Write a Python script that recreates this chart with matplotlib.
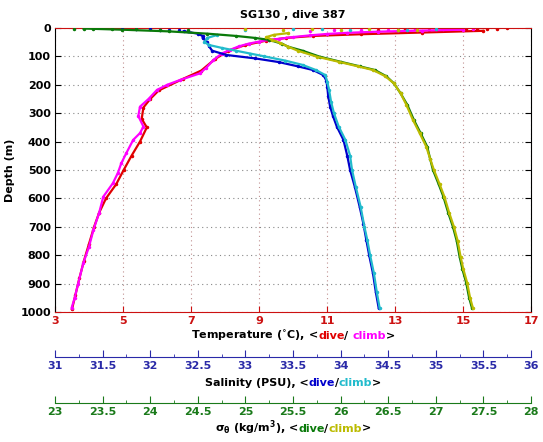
import matplotlib
matplotlib.use('Agg')
import matplotlib.pyplot as plt
from matplotlib.ticker import MultipleLocator, FormatStrFormatter
from matplotlib.offsetbox import TextArea, HPacker, AnchoredOffsetbox

# temperature, dive (red) and climb (magenta)
temp_dive_depth = [10, 16, 22, 28, 35, 45, 60, 80, 110, 150, 180, 220, 250, 280, 320, 350,
                   400, 450, 500, 550, 600, 650, 700, 760, 820, 880, 940, 990]
temp_dive = [15.6, 13.8, 12.0, 10.6, 9.8, 9.2, 8.6, 8.1, 7.7, 7.3, 6.75, 6.05, 5.8, 5.6, 5.55, 5.7,
             5.5, 5.25, 5.02, 4.8, 4.5, 4.3, 4.15, 4.0, 3.85, 3.72, 3.6, 3.5]
temp_climb_depth = [6, 9, 13, 17, 21, 26, 32, 38, 42, 48, 55, 65, 77, 90, 113, 140, 160, 183, 200,
                    218, 250, 277, 310, 347, 370, 394, 440, 476, 510, 547, 594, 650, 711, 770, 829,
                    900, 950, 985]
temp_climb = [15.0, 13.8, 12.5, 11.6, 11.0, 10.5, 10.0, 9.6, 9.3, 9.0, 8.7, 8.4, 8.15, 7.9, 7.66,
              7.45, 7.26, 6.68, 6.3, 6.0, 5.75, 5.5, 5.45, 5.6, 5.5, 5.3, 5.1, 4.95, 4.85, 4.7, 4.42,
              4.3, 4.13, 4.0, 3.83, 3.68, 3.58, 3.49]
temp_dive_surf = [12.5, 13.3, 14.0, 15.1, 15.4, 15.7, 16.0, 16.3]
temp_dive_surf_depth = [6, 5, 7, 4, 3, 5, 2, 1]
temp_climb_surf = [10.5, 11.2, 12.0, 12.8, 13.6, 14.4, 15.3]
temp_climb_surf_depth = [9, 8, 7, 6, 5, 3, 2]

# salinity, dive (blue) and climb (cyan)
sal_dive_depth = [12, 20, 28, 35, 50, 65, 80, 95, 107, 120, 135, 148, 166, 185, 207, 240, 277,
                  310, 347, 394, 450, 500, 560, 629, 690, 746, 800, 864, 930, 986]
sal_dive = [32.35, 32.5, 32.55, 32.55, 32.6, 32.62, 32.65, 32.8, 33.1, 33.35, 33.55, 33.71,
            33.82, 33.85, 33.86, 33.87, 33.89, 33.92, 33.96, 34.03, 34.07, 34.1, 34.15, 34.2, 34.24,
            34.27, 34.3, 34.34, 34.37, 34.4]
sal_climb_depth = [25, 35, 50, 60, 70, 80, 90, 100, 115, 130, 148, 166, 190, 220, 260, 300,
                   347, 394, 450, 500, 560, 629, 700, 746, 800, 864, 930, 986]
sal_climb = [32.7, 32.6, 32.57, 32.62, 32.75, 32.9, 33.05, 33.2, 33.42, 33.6, 33.74,
             33.84, 33.86, 33.88, 33.9, 33.93, 33.98, 34.05, 34.1, 34.12, 34.16, 34.21, 34.25,
             34.28, 34.31, 34.35, 34.38, 34.41]
sal_dive_surf = [31.7, 31.85, 32.0, 32.1, 32.2, 32.3, 32.4]
sal_dive_surf_depth = [3, 4, 5, 6, 7, 8, 9]
sal_climb_surf = [33.0, 33.5, 33.8, 34.1, 34.6, 34.7, 35.0]
sal_climb_surf_depth = [7, 5, 4, 6, 8, 6, 4]

# sigma-theta, dive (green) and climb (olive)
sig_dive_depth = [2, 6, 12, 20, 28, 35, 42, 55, 66, 80, 101, 119, 135, 148, 170, 195, 230, 270, 324,
                  370, 418, 460, 500, 550, 594, 650, 700, 750, 805, 850, 898, 950, 986]
sig_dive = [23.3, 23.7, 24.2, 24.6, 24.9, 25.1, 25.25, 25.38, 25.45, 25.6, 25.78, 26.0, 26.2, 26.36,
            26.48, 26.56, 26.63, 26.7, 26.77, 26.84, 26.91, 26.94, 26.97, 27.03, 27.08, 27.13, 27.18,
            27.22, 27.25, 27.28, 27.32, 27.35, 27.38]
sig_climb_depth = [18, 24, 32, 42, 52, 66, 80, 101, 119, 135, 148, 170, 195, 230, 270, 324, 370,
                   418, 460, 500, 550, 594, 650, 700, 750, 805, 850, 898, 950, 986]
sig_climb = [25.45, 25.3, 25.22, 25.28, 25.36, 25.45, 25.55, 25.75, 25.98, 26.18, 26.34, 26.47,
             26.56, 26.63, 26.69, 26.76, 26.83, 26.9, 26.94, 26.98, 27.04, 27.09, 27.14, 27.19,
             27.23, 27.26, 27.29, 27.33, 27.36, 27.39]
sig_dive_surf = [23.2, 23.4, 23.6, 23.85, 24.1, 24.4]
sig_dive_surf_depth = [2, 3, 2, 4, 6, 8]
sig_climb_surf = [25.0, 25.4, 25.7, 26.0, 26.3, 26.6, 26.8]
sig_climb_surf_depth = [3, 6, 4, 7, 5, 8, 6]

RED, MAG = '#e00000', '#ff00ff'
BLUE, CYAN = '#0000cc', '#22bbcc'
GREEN, OLIVE = '#0a7a0a', '#bbbb00'

fig = plt.figure(figsize=(5.43, 4.42), dpi=100)
ax = fig.add_axes([0.1013, 0.2941, 0.8766, 0.6426])

fs = 8
bold = dict(fontsize=fs, fontweight='bold')

# secondary x axes sharing depth
ax2 = ax.twiny()
ax3 = ax.twiny()
for a, off, col in [(ax2, 32.4, '#2a2aa8'), (ax3, 65.3, '#1a7a1a')]:
    a.xaxis.set_ticks_position('bottom')
    a.spines['bottom'].set_position(('outward', off))
    a.spines['bottom'].set_color(col)
    for s in ['top', 'left', 'right']:
        a.spines[s].set_visible(False)
    a.xaxis.set_major_locator(MultipleLocator(0.5))
    a.xaxis.set_minor_locator(MultipleLocator(0.25))
    a.xaxis.set_major_formatter(FormatStrFormatter('%g'))
    a.tick_params(axis='x', which='both', direction='in', colors=col, labelsize=fs, pad=3)
    a.tick_params(axis='x', which='major', length=5)
    a.tick_params(axis='x', which='minor', length=2.5)
ax2.set_xlim(31, 36)
ax3.set_xlim(23, 28)

# data
ax.plot(temp_dive, temp_dive_depth, '.-', color=RED, ms=3, lw=1.6)
ax.plot(temp_dive_surf, temp_dive_surf_depth, '.', color=RED, ms=3)
ax.plot(temp_climb, temp_climb_depth, '.-', color=MAG, ms=3, lw=1.6)
ax.plot(temp_climb_surf, temp_climb_surf_depth, '.', color=MAG, ms=3)
ax2.plot(sal_dive, sal_dive_depth, '.-', color=BLUE, ms=3, lw=1.6)
ax2.plot(sal_dive_surf, sal_dive_surf_depth, '.', color=BLUE, ms=3)
ax2.plot(sal_climb, sal_climb_depth, '.-', color=CYAN, ms=3, lw=1.6)
ax2.plot(sal_climb_surf, sal_climb_surf_depth, '.', color=CYAN, ms=3)
ax3.plot(sig_dive, sig_dive_depth, '.-', color=GREEN, ms=3, lw=1.6)
ax3.plot(sig_dive_surf, sig_dive_surf_depth, '.', color=GREEN, ms=3)
ax3.plot(sig_climb, sig_climb_depth, '.-', color=OLIVE, ms=3, lw=1.6)
ax3.plot(sig_climb_surf, sig_climb_surf_depth, '.', color=OLIVE, ms=3)

# main axes
ax.set_xlim(3, 17)
ax.set_ylim(1000, 0)
ax.set_xticks(range(3, 18, 2))
ax.set_yticks(range(0, 1001, 100))
ax.tick_params(axis='x', direction='in', colors='#cc1111', labelsize=fs, length=4, pad=3)
ax.tick_params(axis='y', direction='in', left=True, right=True, labelsize=fs, length=4, pad=3)
ax.spines['bottom'].set_color('#cc1111')
ax.spines['top'].set_color('#cc1111')
ax.xaxis.grid(True, linestyle=(0, (1, 3)), color='#c09090', lw=0.8)
ax.yaxis.grid(True, linestyle=(0, (1, 3)), color='#888888', lw=0.8)
ax.set_ylabel('Depth (m)', **bold, labelpad=4)
ax.set_title('SG130 , dive 387', **bold, pad=7)

for a in (ax, ax2, ax3):
    for lab in a.get_xticklabels() + a.get_yticklabels():
        lab.set_fontweight('bold')


def colored_label(parts, y):
    boxes = [TextArea(t, textprops=dict(color=c, fontsize=fs, fontweight='bold')) for t, c in parts]
    pack = HPacker(children=boxes, align='baseline', pad=0, sep=0)
    box = AnchoredOffsetbox(loc='center', child=pack, pad=0, borderpad=0, frameon=False,
                            bbox_to_anchor=(0.5396, y), bbox_transform=fig.transFigure)
    fig.add_artist(box)


plt.rcParams['mathtext.default'] = 'regular'
colored_label([('Temperature ($^{\\circ}$C), <', 'black'), ('dive', RED), ('/ ', 'black'),
               ('climb', MAG), ('>', 'black')], 0.2398)
colored_label([('Salinity (PSU), <', 'black'), ('dive', BLUE), ('/', 'black'),
               ('climb', CYAN), ('>', 'black')], 0.1335)
colored_label([('$\\sigma_\\theta$ (kg/m$^3$), <', 'black'), ('dive', GREEN), ('/', 'black'),
               ('climb', OLIVE), ('>', 'black')], 0.0324)

fig.savefig('out.png', dpi=100)
